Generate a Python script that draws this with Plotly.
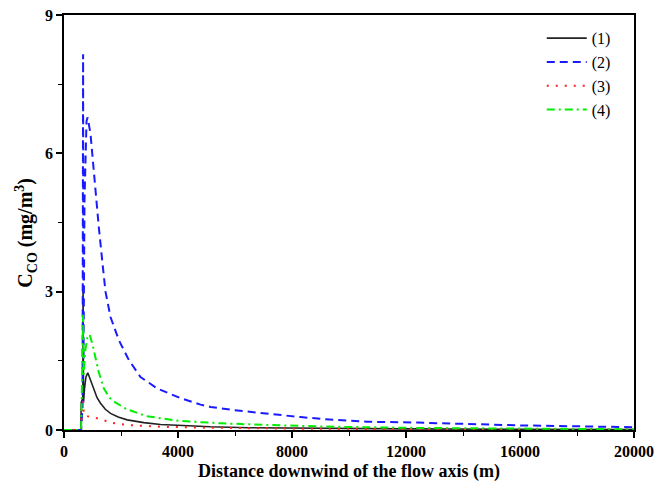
import plotly.graph_objects as go

# Distance downwind (m) and CO concentration (mg/m3) for each case
x1 = [0, 590, 605, 660, 670, 685, 720, 770, 835, 920, 1046, 1160, 1281, 1450, 1632, 1900, 2217, 2800, 3386, 4200, 5140, 6500, 8000, 10000, 12000, 16000, 20000]
y1 = [0, 0, 0.6, 0.7, 3.14, 0.6, 0.9, 1.15, 1.24, 1.1, 0.87, 0.7, 0.58, 0.45, 0.36, 0.28, 0.22, 0.16, 0.12, 0.09, 0.07, 0.05, 0.04, 0.03, 0.025, 0.015, 0.01]

x2 = [0, 600, 650, 670, 682, 720, 790, 830, 930, 1010, 1105, 1221, 1340, 1456, 1632, 1923, 2274, 2684, 3270, 4088, 4790, 5140, 5960, 7130, 8300, 9470, 10640, 12400, 14000, 16000, 18000, 20000]
y2 = [0, 0, 0.5, 8.15, 1.5, 5.0, 6.7, 6.78, 6.42, 5.84, 5.12, 4.40, 3.68, 3.0, 2.45, 1.95, 1.52, 1.15, 0.90, 0.69, 0.55, 0.50, 0.43, 0.35, 0.28, 0.22, 0.18, 0.16, 0.13, 0.10, 0.08, 0.06]

x3 = [0, 600, 630, 670, 700, 800, 1000, 1300, 1600, 2200, 3400, 5000, 8000, 12000, 16000, 20000]
y3 = [0, 0, 0.5, 0.62, 0.32, 0.30, 0.27, 0.24, 0.16, 0.11, 0.07, 0.05, 0.03, 0.02, 0.015, 0.01]

x4 = [0, 600, 620, 670, 690, 740, 820, 900, 1000, 1100, 1220, 1400, 1600, 1800, 2200, 2900, 4000, 4800, 5500, 7100, 9500, 12400, 16000, 20000]
y4 = [0, 0, 0.6, 2.5, 1.2, 1.7, 2.0, 2.07, 1.85, 1.55, 1.25, 0.9, 0.7, 0.6, 0.45, 0.3, 0.2, 0.17, 0.145, 0.11, 0.07, 0.045, 0.03, 0.015]

names = ["(1)", "(2)", "(3)", "(4)"]
x_ticks = [0, 4000, 8000, 12000, 16000, 20000]
y_ticks = [0, 3, 6, 9]

fig = go.Figure()
fig.add_trace(go.Scatter(x=x1, y=y1, name=names[0], mode="lines",
                         line=dict(color="#222222", width=1.6)))
fig.add_trace(go.Scatter(x=x2, y=y2, name=names[1], mode="lines",
                         line=dict(color="#1a1aff", width=2, dash="8px,5px")))
fig.add_trace(go.Scatter(x=x3, y=y3, name=names[2], mode="lines",
                         line=dict(color="#ff2020", width=2, dash="2px,7px")))
fig.add_trace(go.Scatter(x=x4, y=y4, name=names[3], mode="lines",
                         line=dict(color="#00ee00", width=2, dash="8px,4px,2px,4px")))

axis_font = dict(family="Liberation Serif", size=16, color="black")
fig.update_layout(
    width=654, height=492,
    margin=dict(l=64, r=20, t=15, b=62),
    paper_bgcolor="white", plot_bgcolor="white",
    showlegend=True,
    legend=dict(x=0.968, y=0.985, xanchor="right", yanchor="top",
                font=dict(family="Liberation Serif", size=16, color="black"),
                bgcolor="rgba(0,0,0,0)", tracegroupgap=0, itemwidth=40),
    xaxis=dict(range=[0, 20000], tickvals=x_ticks, ticktext=[f"<b>{v}</b>" for v in x_ticks],
               ticks="outside", ticklen=6, tickwidth=1.5, tickcolor="black",
               minor=dict(dtick=2000, ticks="outside", ticklen=4, tickwidth=1.2, tickcolor="black"),
               showline=True, linecolor="black", linewidth=1.5, mirror=True,
               showgrid=False, zeroline=False, tickfont=axis_font, automargin=False,
               title=dict(text="<b>Distance downwind of the flow axis (m)</b>",
                          font=dict(family="Liberation Serif", size=18, color="black"),
                          standoff=5)),
    yaxis=dict(range=[0, 9], tickvals=y_ticks, ticktext=[f"<b>{v}</b>" for v in y_ticks],
               ticks="outside", ticklen=6, tickwidth=1.5, tickcolor="black",
               minor=dict(dtick=1.5, ticks="outside", ticklen=4, tickwidth=1.2, tickcolor="black"),
               showline=True, linecolor="black", linewidth=1.5, mirror=True,
               showgrid=False, zeroline=False, tickfont=axis_font, automargin=False),
    annotations=[dict(text="<b>C<sub>CO</sub> (mg/m<sup>3</sup>)</b>", textangle=-90,
                      xref="paper", yref="paper", x=-0.067, y=0.475,
                      xanchor="center", yanchor="middle", showarrow=False,
                      font=dict(family="Liberation Serif", size=20, color="black"))],
)

fig.write_html("out.html")
